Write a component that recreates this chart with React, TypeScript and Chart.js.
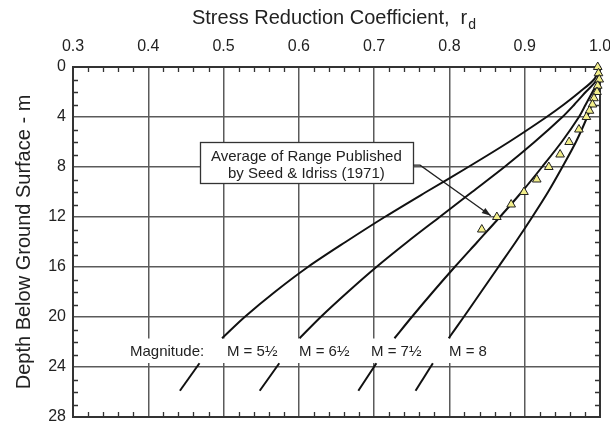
import React, { useEffect, useRef } from "react";
import { Chart, registerables } from "chart.js";

Chart.register(...registerables);

const FONT = "'Liberation Sans', Arial, Helvetica, sans-serif";
const INK = "#222222";

// Depth samples (m) for the magnitude curves (upper part, then part below the labels)
const depthUpper = [0, 1, 2, 3, 4, 6, 8, 10, 12, 14, 16, 18, 20, 21.7];
const depthLower = [23.7, 25.9];

// Stress reduction coefficient
const rdM55 = [1.0, 0.992, 0.973, 0.952, 0.929, 0.879, 0.825, 0.769, 0.714, 0.662, 0.612, 0.568, 0.528, 0.498];
const rdM65 = [1.0, 0.996, 0.981, 0.966, 0.95, 0.913, 0.873, 0.83, 0.787, 0.744, 0.703, 0.665, 0.629, 0.601];
const rdM75 = [1.0, 0.999, 0.99, 0.981, 0.972, 0.949, 0.923, 0.896, 0.867, 0.837, 0.807, 0.778, 0.75, 0.727];
const rdM80 = [1.0, 1.0, 0.995, 0.989, 0.983, 0.968, 0.95, 0.931, 0.91, 0.888, 0.865, 0.842, 0.819, 0.799];
const rdM55Lower = [0.468, 0.442];
const rdM65Lower = [0.574, 0.548];
const rdM75Lower = [0.703, 0.679];
const rdM80Lower = [0.778, 0.755];

// Seed & Idriss (1971) average points
const seedDepth = [0, 0.5, 1, 1.5, 2, 2.5, 3, 3.5, 4, 5, 6, 7, 8, 9, 10, 11, 12, 13];
const seedRd = [0.997, 0.998, 0.999, 0.997, 0.996, 0.992, 0.99, 0.986, 0.982, 0.972, 0.959, 0.947, 0.932, 0.916, 0.899, 0.882, 0.863, 0.843];

// Axis ticks
const xTickValues = [0.3, 0.4, 0.5, 0.6, 0.7, 0.8, 0.9, 1.0];
const yTickValues = [0, 4, 8, 12, 16, 20, 24, 28];

// Magnitude labels
const magnitudeLabels = ["Magnitude:", "M = 5½", "M = 6½", "M = 7½", "M = 8"];
const magnitudeLabelRd = [0.3757, 0.5045, 0.6002, 0.6958, 0.7994];

const noteLines = ["Average of Range Published", "by Seed & Idriss (1971)"];

const annot = {
  labelDepth: 22.78,
  band: { x0: 0.372, x1: 0.867, y0: 21.72, y1: 23.68 },
  box: { x0: 0.4687, x1: 0.7516, y0: 6.0, y1: 9.28, cx: 0.61, lines: [7.48, 8.84] },
  arrow: [
    [0.7516, 7.85],
    [0.761, 7.85],
    [0.855, 11.9],
  ],
};

const pts = (xs: number[], ys: number[]) => xs.map((v, i) => ({ x: v, y: ys[i] }));

const curve = (xs: number[], ys: number[]) => ({
  data: pts(xs, ys),
  showLine: true,
  borderColor: "#111111",
  borderWidth: 2,
  pointRadius: 0,
  tension: 0.3,
  fill: false,
});

const decorPlugin = {
  id: "decor",
  beforeDatasetsDraw(chart: any) {
    const { ctx, chartArea: a, scales } = chart;
    const x = scales.x;
    const y = scales.y;
    ctx.save();

    // white band behind magnitude labels
    const b = annot.band;
    ctx.fillStyle = "#ffffff";
    const bx0 = x.getPixelForValue(b.x0);
    const bx1 = x.getPixelForValue(b.x1);
    const by0 = y.getPixelForValue(b.y0);
    const by1 = y.getPixelForValue(b.y1);
    ctx.fillRect(bx0, by0, bx1 - bx0, by1 - by0);

    // note box
    const bx = annot.box;
    const nx0 = x.getPixelForValue(bx.x0);
    const nx1 = x.getPixelForValue(bx.x1);
    const ny0 = y.getPixelForValue(bx.y0);
    const ny1 = y.getPixelForValue(bx.y1);
    ctx.fillStyle = "#ffffff";
    ctx.fillRect(nx0, ny0, nx1 - nx0, ny1 - ny0);
    ctx.strokeStyle = "#333333";
    ctx.lineWidth = 1.3;
    ctx.strokeRect(Math.round(nx0) + 0.5, Math.round(ny0) + 0.5, Math.round(nx1 - nx0), Math.round(ny1 - ny0));
    ctx.fillStyle = INK;
    ctx.font = `15px ${FONT}`;
    ctx.textAlign = "center";
    ctx.textBaseline = "alphabetic";
    noteLines.forEach((t, i) => {
      ctx.fillText(t, x.getPixelForValue(bx.cx), y.getPixelForValue(bx.lines[i]));
    });

    // magnitude labels
    ctx.textAlign = "left";
    ctx.textBaseline = "middle";
    magnitudeLabels.forEach((t, i) => {
      ctx.fillText(t, x.getPixelForValue(magnitudeLabelRd[i]), y.getPixelForValue(annot.labelDepth));
    });

    // minor ticks
    ctx.strokeStyle = "#333333";
    ctx.lineWidth = 1.3;
    ctx.beginPath();
    for (let i = 1; i < 35; i++) {
      if (i % 5 === 0) continue;
      const px = Math.round(x.getPixelForValue(0.3 + i * 0.02)) + 0.5;
      ctx.moveTo(px, a.top);
      ctx.lineTo(px, a.top + 5);
      ctx.moveTo(px, a.bottom);
      ctx.lineTo(px, a.bottom - 5);
    }
    for (let d = 1; d < 28; d++) {
      if (d % 4 === 0) continue;
      const py = Math.round(y.getPixelForValue(d)) + 0.5;
      ctx.moveTo(a.left, py);
      ctx.lineTo(a.left + 5, py);
      ctx.moveTo(a.right, py);
      ctx.lineTo(a.right - 5, py);
    }
    ctx.stroke();

    // frame
    ctx.strokeStyle = "#333333";
    ctx.lineWidth = 2;
    ctx.strokeRect(a.left, a.top, a.right - a.left, a.bottom - a.top);

    // arrow
    const p = annot.arrow.map(([rv, dv]) => [x.getPixelForValue(rv), y.getPixelForValue(dv)]);
    ctx.strokeStyle = INK;
    ctx.lineWidth = 1.3;
    ctx.beginPath();
    ctx.moveTo(p[0][0], p[0][1]);
    for (let i = 1; i < p.length; i++) ctx.lineTo(p[i][0], p[i][1]);
    ctx.stroke();
    const [tx, ty] = p[p.length - 1];
    const [sx, sy] = p[p.length - 2];
    const ang = Math.atan2(ty - sy, tx - sx);
    const L = 9;
    const W = 3.2;
    ctx.fillStyle = INK;
    ctx.beginPath();
    ctx.moveTo(tx, ty);
    ctx.lineTo(tx - L * Math.cos(ang) + W * Math.sin(ang), ty - L * Math.sin(ang) - W * Math.cos(ang));
    ctx.lineTo(tx - L * Math.cos(ang) - W * Math.sin(ang), ty - L * Math.sin(ang) + W * Math.cos(ang));
    ctx.closePath();
    ctx.fill();

    // top title with subscript
    const main = "Stress Reduction Coefficient,  r";
    ctx.font = `20px ${FONT}`;
    const w1 = ctx.measureText(main).width;
    ctx.font = `14px ${FONT}`;
    const w2 = ctx.measureText("d").width;
    const cx = (a.left + a.right) / 2 - 3;
    const start = cx - (w1 + w2) / 2;
    ctx.textAlign = "left";
    ctx.textBaseline = "alphabetic";
    ctx.fillStyle = INK;
    ctx.font = `20px ${FONT}`;
    ctx.fillText(main, start, 24);
    ctx.font = `14px ${FONT}`;
    ctx.fillText("d", start + w1 + 1, 29);

    ctx.restore();
  },
};

export default function App() {
  const ref = useRef<HTMLCanvasElement | null>(null);

  useEffect(() => {
    document.body.style.margin = "0";
    if (!ref.current) return;
    const chart = new Chart(ref.current, {
      type: "scatter",
      data: {
        datasets: [
          {
            data: pts(seedRd, seedDepth),
            pointStyle: "triangle",
            pointRadius: 5,
            backgroundColor: "#f2ee8a",
            borderColor: "#222222",
            borderWidth: 1,
            showLine: false,
            clip: false,
          } as any,
          curve(rdM55, depthUpper),
          curve(rdM65, depthUpper),
          curve(rdM75, depthUpper),
          curve(rdM80, depthUpper),
          curve(rdM55Lower, depthLower),
          curve(rdM65Lower, depthLower),
          curve(rdM75Lower, depthLower),
          curve(rdM80Lower, depthLower),
        ],
      },
      options: {
        animation: false,
        responsive: false,
        events: [],
        layout: { padding: { left: 0, top: 0, right: 10, bottom: 8 } },
        plugins: { legend: { display: false }, tooltip: { enabled: false } },
        scales: {
          x: {
            type: "linear",
            position: "top",
            min: 0.3,
            max: 1.0,
            afterBuildTicks: (s: any) => {
              s.ticks = xTickValues.map((value) => ({ value }));
            },
            afterFit: (s: any) => {
              s.height = 67;
              s.paddingLeft = 0;
              s.paddingRight = 0;
            },
            ticks: {
              callback: (v: any) => Number(v).toFixed(1),
              font: { family: FONT, size: 16 },
              color: INK,
              padding: 11,
              maxRotation: 0,
              autoSkip: false,
            },
            grid: { color: "#5a5a5a", lineWidth: 1.5, drawTicks: false },
            border: { display: false },
          },
          y: {
            type: "linear",
            position: "left",
            reverse: true,
            min: 0,
            max: 28,
            afterBuildTicks: (s: any) => {
              s.ticks = yTickValues.map((value) => ({ value }));
            },
            afterFit: (s: any) => {
              s.width = 73;
              s.paddingTop = 0;
              s.paddingBottom = 0;
            },
            ticks: {
              callback: (v: any) => String(v),
              font: { family: FONT, size: 16 },
              color: INK,
              padding: 7,
              autoSkip: false,
            },
            title: {
              display: true,
              text: "Depth Below Ground Surface - m",
              font: { family: FONT, size: 20 },
              color: INK,
              padding: { top: 12, bottom: 0 },
            },
            grid: { color: "#5a5a5a", lineWidth: 1.5, drawTicks: false },
            border: { display: false },
          },
        },
      },
      plugins: [decorPlugin],
    });
    return () => chart.destroy();
  }, []);

  return (
    <div style={{ width: 610, height: 425, background: "#ffffff" }}>
      <canvas ref={ref} width={610} height={425} style={{ display: "block" }} />
    </div>
  );
}
